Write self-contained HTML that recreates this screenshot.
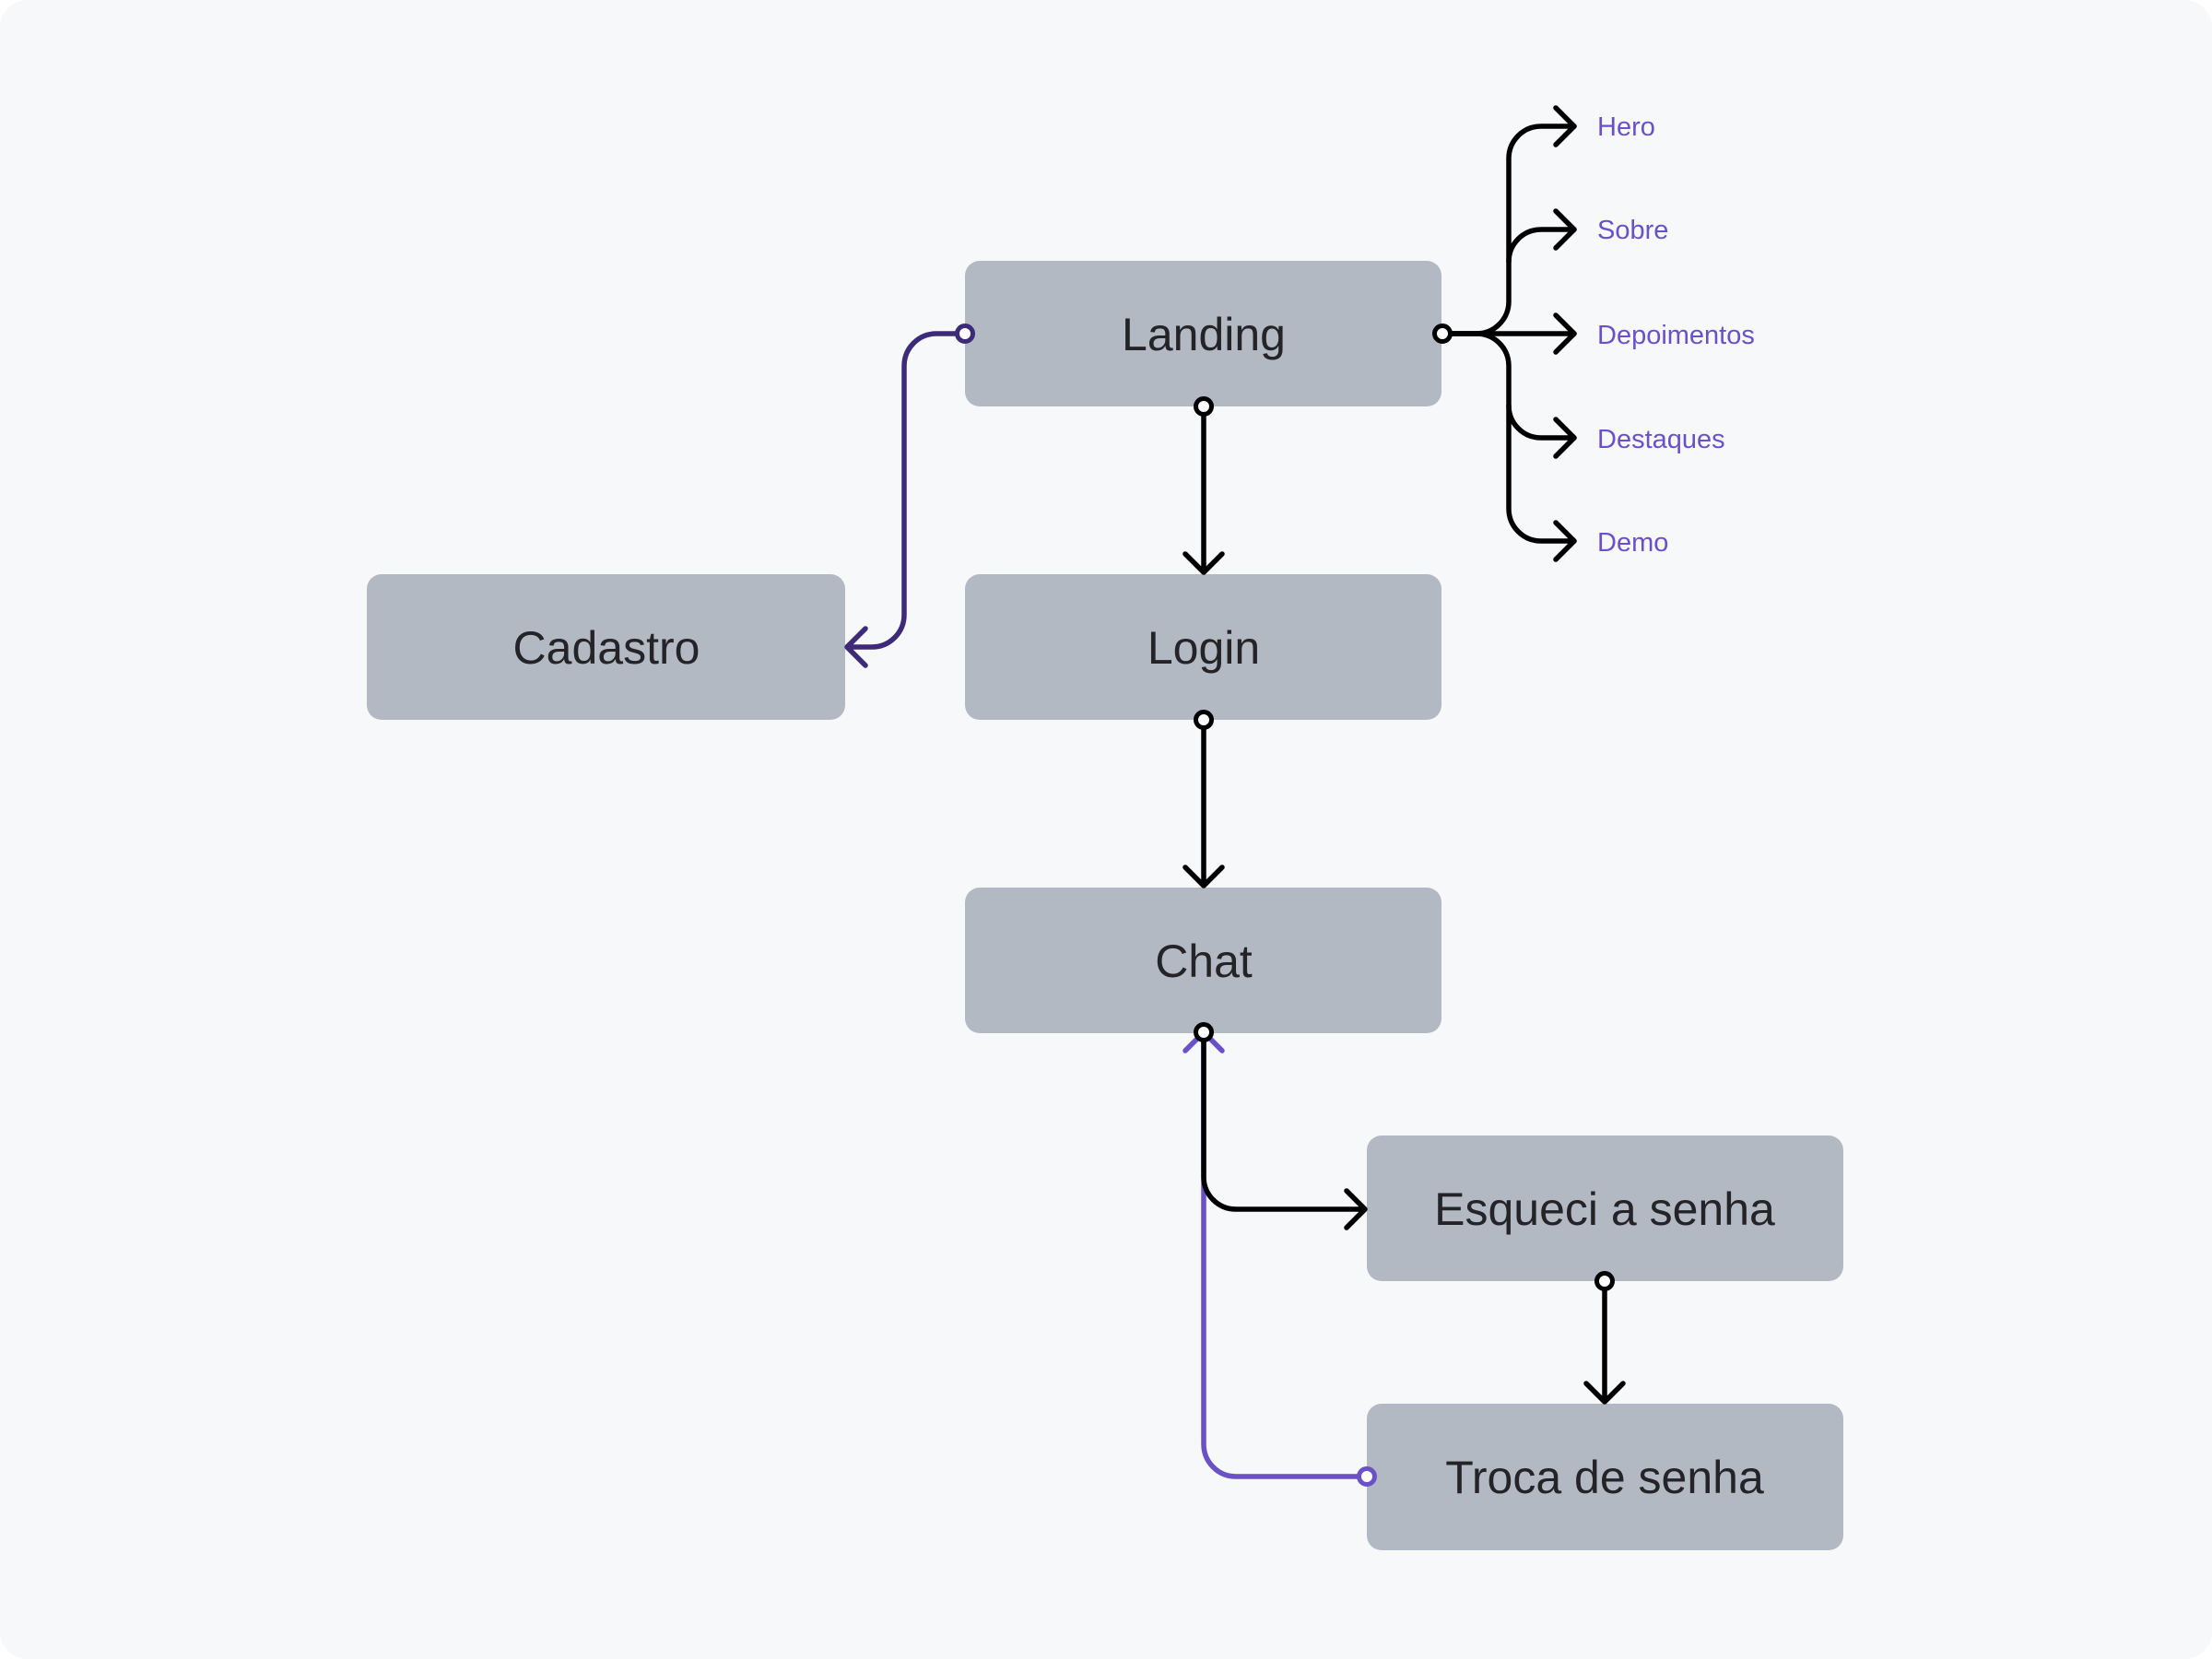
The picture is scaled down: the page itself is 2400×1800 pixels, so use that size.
<!DOCTYPE html>
<html><head><meta charset="utf-8"><style>
html,body{margin:0;padding:0;background:#fff;}
svg{display:block;}
</style></head><body>
<svg width="2400" height="1800" viewBox="0 0 2400 1800" xmlns="http://www.w3.org/2000/svg">
<rect x="0" y="0" width="2400" height="1800" rx="30" fill="#f7f8fa"/>
<g fill="#b3b9c3">
<rect x="1047" y="283" width="517" height="158" rx="16"/>
<rect x="1047" y="623" width="517" height="158" rx="16"/>
<rect x="398" y="623" width="519" height="158" rx="16"/>
<rect x="1047" y="963" width="517" height="158" rx="16"/>
<rect x="1483" y="1232" width="517" height="158" rx="16"/>
<rect x="1483" y="1523" width="517" height="159" rx="16"/>
</g>
<g font-family="Liberation Sans, sans-serif" font-size="50" fill="#232328" text-anchor="middle">
<text x="1306" y="380">Landing</text>
<text x="1306" y="720">Login</text>
<text x="658" y="720">Cadastro</text>
<text x="1306" y="1060">Chat</text>
<text x="1741" y="1329">Esqueci a senha</text>
<text x="1741" y="1620">Troca de senha</text>
</g>
<g font-family="Liberation Sans, sans-serif" font-size="29" fill="#6a51c8">
<text x="1733" y="147">Hero</text>
<text x="1733" y="259">Sobre</text>
<text x="1733" y="373">Depoimentos</text>
<text x="1733" y="486">Destaques</text>
<text x="1733" y="598">Demo</text>
</g>
<g fill="none" stroke-width="5.5" stroke-linecap="round" stroke-linejoin="round">
<path d="M1483 1602 H1341 A35 35 0 0 1 1306 1567 V1122" stroke="#6a51c8"/>
<path d="M1286 1140 L1306 1120 L1326 1140" stroke="#6a51c8"/>
<path d="M1306 441 V621 M1286 601 L1306 621 L1326 601" stroke="#000"/>
<path d="M1306 781 V961 M1286 941 L1306 961 L1326 941" stroke="#000"/>
<path d="M1741 1390 V1521 M1721 1501 L1741 1521 L1761 1501" stroke="#000"/>
<path d="M1306 1120 V1277 A35 35 0 0 0 1341 1312 H1481 M1461 1292 L1481 1312 L1461 1332" stroke="#000"/>
<path d="M1047 362 H1016 A35 35 0 0 0 981 397 V667 A35 35 0 0 1 946 702 H919 M939 682 L919 702 L939 722" stroke="#3d2a78"/>
<g stroke="#000">
<path d="M1565 362 H1708"/>
<path d="M1565 362 H1602 A35 35 0 0 0 1637 327 V172 A35 35 0 0 1 1672 137 H1708"/>
<path d="M1637 284 A35 35 0 0 1 1672 249 H1708"/>
<path d="M1565 362 H1602 A35 35 0 0 1 1637 397 V552 A35 35 0 0 0 1672 587 H1708"/>
<path d="M1637 440 A35 35 0 0 0 1672 475 H1708"/>
<path d="M1688 117 L1708 137 L1688 157 M1688 229 L1708 249 L1688 269 M1688 342 L1708 362 L1688 382 M1688 455 L1708 475 L1688 495 M1688 567 L1708 587 L1688 607"/>
</g>
</g>
<g fill="#fff" stroke-width="5">
<circle cx="1306" cy="441" r="8.5" stroke="#000"/>
<circle cx="1306" cy="781" r="8.5" stroke="#000"/>
<circle cx="1306" cy="1120" r="8.5" stroke="#000"/>
<circle cx="1741" cy="1390" r="8.5" stroke="#000"/>
<circle cx="1565" cy="362" r="8.5" stroke="#000"/>
<circle cx="1047" cy="362" r="8.5" stroke="#3d2a78"/>
<circle cx="1483" cy="1602" r="8.5" stroke="#6a51c8"/>
</g>
</svg>
</body></html>
